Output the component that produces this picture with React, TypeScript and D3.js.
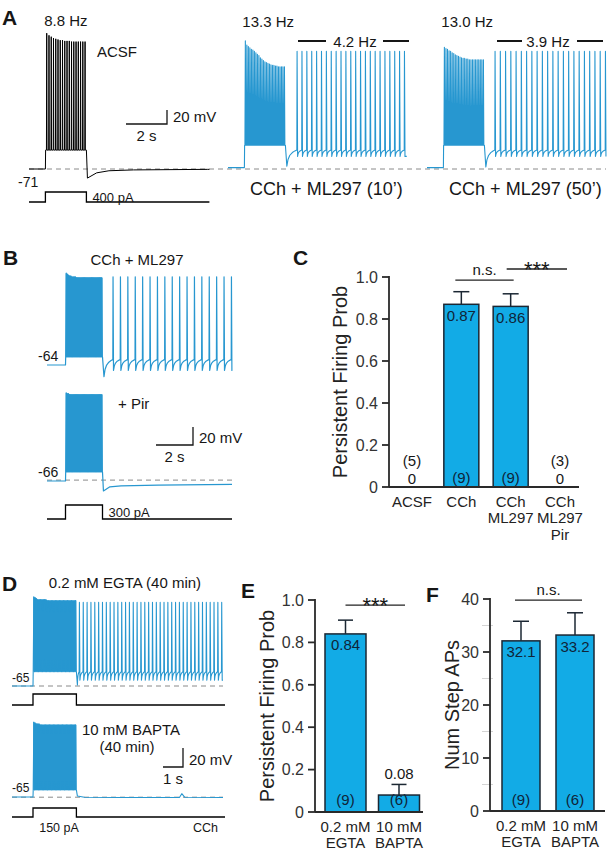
import React from 'react';
import * as d3 from 'd3';

const FONT = "'Liberation Sans', Arial, Helvetica, sans-serif";
const TRACE_BLUE = '#2797d0';
const BAR_BLUE = '#12abe6';
const INK = '#161616';
const BAR_EDGE = '#1b2733';
const DASH = '#8a8a8a';

// ---------------- Panel A data (mV, s, pA) ----------------
const aCondLabels = ['ACSF', 'CCh + ML297 (10’)', 'CCh + ML297 (50’)'];
const aStepHz = ['8.8 Hz', '13.3 Hz', '13.0 Hz'];
const aPersistHz = ['', '4.2 Hz', '3.9 Hz'];
const aRest = [-71, -69, -69];
const aPlateau = [-44, -37, -37];
const aTEnd = [8.8, 8.72, 8.72];
const aPeaksACSF = [123, 120, 118, 116, 115, 114, 113, 113, 112, 112, 112, 111, 111, 111, 111, 111, 111, 111];
const aPeaksML10 = [112, 106, 104, 102, 100, 99, 97, 95, 93, 91, 88, 86, 84, 82, 81, 80, 79, 78, 77, 77, 76, 76, 75, 75, 75, 75, 75];
const aPeaksML50 = [103, 101, 100, 98, 97, 95, 94, 92, 91, 90, 89, 88, 87, 87, 86, 86, 85, 85, 85, 85, 85, 85, 85, 85, 85, 85];
const aPostACSF: [number, number][] = [[0.05, -84], [0.5, -76.5], [1.1, -73.5], [2.3, -72.3], [5.9, -71.5]];
const aPostML10: [number, number][] = [[0.07, -67]];
const aPostML50: [number, number][] = [[0.07, -68]];
const aPersistStart = [0, 3.37, 3.32];
const aPersistFreq = [0, 4.2, 3.9];
const aPersistCount = [0, 23, 22];
const aPersistPeak = [0, 97, 97];
const aStepCurrent = 400;

// ---------------- Panel B data ----------------
const bRest = [-64, -66];
const bPlateau = [-55, -56];
const bPeaksCCh = [38, 37, 36, 35, 35, 34, 34, 34, 34, 33, 33, 33, 33, 33, 33, 33, 33, 33, 33, 33, 33, 33, 33, 33, 33, 33, 33, 33, 33, 33, 33, 33];
const bPeaksPir = [32, 31, 31, 30, 30, 30, 30, 30, 30, 30, 30, 30, 30, 30, 30, 30, 30, 30, 30, 30, 30, 30, 30, 30, 30, 30, 30, 30, 30, 30, 30, 30];
const bPostCCh: [number, number][] = [[0.08, -77]];
const bPostPir: [number, number][] = [[0.05, -77], [0.4, -72.5], [1.0, -71.5], [3.0, -70.5], [7.0, -69.7]];
const bPersist = { start: 3.57, freq: 2.5, count: 17, peak: 34, ahp: -70, thr: -58 };
const bStepCurrent = 300;

// ---------------- Panel D data ----------------
const dRest = [-65, -65];
const dPlateau = [-50, -57.6];
const dPeaksEGTA = [29, 28, 27, 26, 26, 26, 26, 26, 26, 26, 25, 25, 25, 25, 25, 25, 25, 25, 25, 25, 25, 25, 25, 25, 25, 25, 25, 25, 25, 25, 25, 25];
const dPeaksBAPTA = [14, 13, 12, 12, 12, 11, 11, 11, 11, 11, 11, 11, 11, 11, 11, 11, 11, 11, 11, 11, 11, 11, 11, 11, 11, 11, 11, 11, 11, 11, 11, 11, 11];
const dPostEGTA: [number, number][] = [[0.05, -64]];
const dPostBAPTA: [number, number][] = [[0.05, -64], [0.4, -65.3], [2.0, -65.5], [5.15, -65.5], [5.27, -61.5], [5.42, -65.3], [7.3, -65.5]];
const dPersist = { start: 3.37, freq: 5.2, count: 38, peak: 23, ahp: -59, thr: -50 };
const dStepCurrent = 150;

// ---------------- Panel C data ----------------
const cCats = ['ACSF', 'CCh', 'CCh\nML297', 'CCh\nML297\nPir'];
const cValues = [0, 0.87, 0.86, 0];
const cErrors = [0, 0.06, 0.06, 0];
const cN = [5, 9, 9, 3];
const cTicks = [0, 0.2, 0.4, 0.6, 0.8, 1.0];

// ---------------- Panel E data ----------------
const eCats = ['0.2 mM\nEGTA', '10 mM\nBAPTA'];
const eValues = [0.84, 0.08];
const eErrors = [0.065, 0.05];
const eN = [9, 6];
const eTicks = [0, 0.2, 0.4, 0.6, 0.8, 1.0];

// ---------------- Panel F data ----------------
const fCats = ['0.2 mM\nEGTA', '10 mM\nBAPTA'];
const fValues = [32.1, 33.2];
const fErrors = [3.7, 4.2];
const fN = [9, 6];
const fTicks = [0, 10, 20, 30, 40];
const fMinorTicks = [5, 15, 25, 35];

// ---------------- trace construction ----------------
type Persist = { start: number; freq: number; count: number; peak: number; ahp: number; thr: number };
type TraceSpec = {
  tEnd: number; stepOn: number; stepOff: number; rest: number; plateau: number;
  peaks: number[]; dense: boolean; post: [number, number][]; persist?: Persist;
};

const RAMP_T = [0, 0.12, 0.3, 0.55, 0.8, 1];
const RAMP_V = [0, 0.42, 0.68, 0.85, 0.95, 1];

function spikeTimes(s: TraceSpec): number[] {
  const iv = (s.stepOff - s.stepOn - 0.02) / s.peaks.length;
  return s.peaks.map((_, i) => s.stepOn + 0.01 + iv * (i + 0.5));
}

function stepSpikes(s: TraceSpec, hwSparse: number): [number, number][] {
  const pts: [number, number][] = [[s.stepOn + 0.01, s.plateau]];
  const iv = (s.stepOff - s.stepOn - 0.02) / s.peaks.length;
  const hw = s.dense ? iv / 2 : hwSparse;
  const ts = spikeTimes(s);
  s.peaks.forEach((pk, i) => {
    pts.push([ts[i] - hw, s.plateau], [ts[i], pk], [ts[i] + hw, s.plateau]);
  });
  pts.push([s.stepOff, s.plateau]);
  return pts;
}

function envelope(s: TraceSpec): [number, number][] {
  const ts = spikeTimes(s);
  return [[s.stepOn + 0.01, s.plateau], [s.stepOn + 0.01, s.peaks[0]], ...s.peaks.map((pk, i) => [ts[i], pk] as [number, number]), [s.stepOff, s.peaks[s.peaks.length - 1]], [s.stepOff, s.plateau]];
}

function buildTrace(s: TraceSpec, hwSparse: number): [number, number][] {
  const pts: [number, number][] = [[0, s.rest], [s.stepOn, s.rest], ...stepSpikes(s, hwSparse)];
  s.post.forEach(([dt, v]) => pts.push([s.stepOff + dt, v]));
  let [pt, pv] = pts[pts.length - 1];
  if (s.persist) {
    const P = s.persist;
    for (let k = 0; k < P.count; k++) {
      const tk = P.start + k / P.freq;
      const t1 = tk - 0.012;
      RAMP_T.forEach((f, j) => {
        if (j > 0) pts.push([pt + (t1 - pt) * f, pv + (P.thr - pv) * RAMP_V[j]]);
      });
      pts.push([tk, P.peak], [tk + 0.025, P.ahp]);
      pt = tk + 0.025;
      pv = P.ahp;
    }
  }
  if (pt < s.tEnd) pts.push([s.tEnd, pv]);
  return pts;
}

function currentPts(on: number, off: number, end: number, amp: number): [number, number][] {
  return [[0, 0], [on, 0], [on, amp], [off, amp], [off, 0], [end, 0]];
}

type Lin = d3.ScaleLinear<number, number>;

function Trace({ spec, x, y, color, width, hw = 0.012 }: { spec: TraceSpec; x: Lin; y: Lin; color: string; width: number; hw?: number }) {
  const line = d3.line<[number, number]>().x(d => x(d[0])).y(d => y(d[1]));
  return (
    <g>
      {spec.dense && <path d={(line(envelope(spec)) || '') + 'Z'} fill={color} stroke="none" />}
      <path d={line(buildTrace(spec, hw)) || ''} fill="none" stroke={color} strokeWidth={width} strokeLinejoin="round" />
    </g>
  );
}

function CurrentPath({ pts, x, y }: { pts: [number, number][]; x: Lin; y: Lin }) {
  const line = d3.line<[number, number]>().x(d => x(d[0])).y(d => y(d[1]));
  return <path d={line(pts) || ''} fill="none" stroke="#000" strokeWidth={1.3} />;
}

function ScaleBar({ cx, cy, secs, mv, x, y, tLabel, vLabel }: { cx: number; cy: number; secs: number; mv: number; x: Lin; y: Lin; tLabel: string; vLabel: string }) {
  const w = x(secs) - x(0);
  const h = Math.abs(y(mv) - y(0));
  return (
    <g>
      <path d={`M${cx - w},${cy}H${cx}V${cy - h}`} fill="none" stroke={INK} strokeWidth={1.3} />
      <text x={cx + 6} y={cy - 2} fontSize={15}>{vLabel}</text>
      <text x={cx - w / 2} y={cy + 17} fontSize={15} textAnchor="middle">{tLabel}</text>
    </g>
  );
}

type Sig = { a: number; b: number; dx0: number; dx1: number; level: number; label: string; stars: boolean };

function BarPanel(p: {
  cats: string[]; values: number[]; errs: number[]; ns: number[];
  yDomain: [number, number]; yRange: [number, number]; ticks: number[]; minor?: number[];
  tickFmt: (v: number) => string; valFmt: (v: number) => string;
  axisX: number; axisEnd: number; xRange: [number, number]; barW: number; capW: number;
  yLabel: string; yLabelX: number; sigs: Sig[]; nOffset: number;
}) {
  const y = d3.scaleLinear().domain(p.yDomain).range(p.yRange);
  const x = d3.scalePoint<number>().domain(p.cats.map((_, i) => i)).range(p.xRange);
  const y0 = y(0);
  const midY = (p.yRange[0] + p.yRange[1]) / 2;
  return (
    <g>
      {p.minor && p.minor.map(t => (
        <line key={'m' + t} x1={p.axisX - 8} x2={p.axisX + 3} y1={y(t)} y2={y(t)} stroke="#d4d4d4" strokeWidth={1} />
      ))}
      {p.cats.map((c, i) => {
        const cx = x(i)!;
        const v = p.values[i];
        if (v === 0) {
          return (
            <g key={i}>
              <text x={cx} y={y0 - 21.5} fontSize={15} textAnchor="middle">({p.ns[i]})</text>
              <text x={cx} y={y0 - 3.5} fontSize={15} textAnchor="middle">0</text>
            </g>
          );
        }
        const top = y(v);
        const errTop = y(v + p.errs[i]);
        const tall = y0 - top > 40;
        return (
          <g key={i}>
            <line x1={cx} x2={cx} y1={top} y2={errTop} stroke={BAR_EDGE} strokeWidth={1.5} />
            <line x1={cx - p.capW / 2} x2={cx + p.capW / 2} y1={errTop} y2={errTop} stroke={BAR_EDGE} strokeWidth={1.5} />
            <rect x={cx - p.barW / 2} y={top} width={p.barW} height={y0 - top} fill={BAR_BLUE} stroke={BAR_EDGE} strokeWidth={1.5} />
            <text x={cx} y={tall ? top + 16.5 : errTop - 5.5} fontSize={15} textAnchor="middle" fill={tall ? '#0f2438' : INK}>{p.valFmt(v)}</text>
            <text x={cx} y={y0 - p.nOffset} fontSize={15} textAnchor="middle" fill="#0f2438">({p.ns[i]})</text>
          </g>
        );
      })}
      <line x1={p.axisX} x2={p.axisX} y1={y0} y2={p.yRange[1] - 1} stroke="#2a2a2a" strokeWidth={1.8} />
      <line x1={p.axisX} x2={p.axisEnd} y1={y0} y2={y0} stroke="#2a2a2a" strokeWidth={1.8} />
      {p.ticks.map(t => (
        <g key={t}>
          <line x1={p.axisX - 7} x2={p.axisX} y1={y(t)} y2={y(t)} stroke="#2a2a2a" strokeWidth={1.8} />
          <text x={p.axisX - 11} y={y(t)} dy="0.36em" fontSize={16} textAnchor="end" fill="#333">{p.tickFmt(t)}</text>
        </g>
      ))}
      {p.cats.map((c, i) => (
        <text key={'c' + i} x={x(i)!} y={y0 + 19.5} fontSize={15} textAnchor="middle" fill="#222">
          {c.split('\n').map((ln, j) => (
            <tspan key={j} x={x(i)!} dy={j === 0 ? 0 : 16.5}>{ln}</tspan>
          ))}
        </text>
      ))}
      <text transform={`translate(${p.yLabelX},${midY}) rotate(-90)`} fontSize={20} textAnchor="middle" dy="0.35em" fill="#222">{p.yLabel}</text>
      {p.sigs.map((s, k) => {
        const x0 = x(s.a)! + s.dx0;
        const x1 = x(s.b)! + s.dx1;
        const ly = y(s.level);
        return (
          <g key={'s' + k}>
            <line x1={x0} x2={x1} y1={ly} y2={ly} stroke="#222" strokeWidth={1.3} />
            {s.stars
              ? <text x={(x0 + x1) / 2} y={ly + 8} fontSize={22} textAnchor="middle">{s.label}</text>
              : <text x={(x0 + x1) / 2} y={ly - 5} fontSize={15} textAnchor="middle">{s.label}</text>}
          </g>
        );
      })}
    </g>
  );
}

export default function App() {
  // ---------- Panel A ----------
  const pxA = 20.5;
  const aOffsets = [29, 228, 427];
  const xA = aOffsets.map(o => d3.scaleLinear().domain([0, 1]).range([o, o + pxA]));
  const yA = d3.scaleLinear().domain([-71, -51]).range([169, 155]);
  const yIA = d3.scaleLinear().domain([0, aStepCurrent]).range([202, 192]);
  const aPeaks = [aPeaksACSF, aPeaksML10, aPeaksML50];
  const aPost = [aPostACSF, aPostML10, aPostML50];
  const aSpecs: TraceSpec[] = [0, 1, 2].map(i => ({
    tEnd: aTEnd[i], stepOn: 0.8, stepOff: 2.8, rest: aRest[i], plateau: aPlateau[i],
    peaks: aPeaks[i], dense: false, post: aPost[i],
    persist: aPersistCount[i] ? { start: aPersistStart[i], freq: aPersistFreq[i], count: aPersistCount[i], peak: aPersistPeak[i], ahp: -53, thr: -44 } : undefined,
  }));

  // ---------- Panel B ----------
  const xB = d3.scaleLinear().domain([0, 10]).range([47, 232]);
  const yB1 = d3.scaleLinear().domain([-64, -44]).range([365, 347]);
  const yB2 = d3.scaleLinear().domain([-66, -46]).range([481, 463]);
  const yIB = d3.scaleLinear().domain([0, bStepCurrent]).range([519, 505]);
  const bSpec1: TraceSpec = { tEnd: 10.02, stepOn: 1, stepOff: 3, rest: bRest[0], plateau: bPlateau[0], peaks: bPeaksCCh, dense: true, post: bPostCCh, persist: bPersist };
  const bSpec2: TraceSpec = { tEnd: 10.0, stepOn: 1, stepOff: 3, rest: bRest[1], plateau: bPlateau[1], peaks: bPeaksPir, dense: true, post: bPostPir };

  // ---------- Panel D ----------
  const xD = d3.scaleLinear().domain([0, 10.55]).range([12, 223]);
  const yD1 = d3.scaleLinear().domain([-65, -45]).range([686, 667]);
  const yD2 = d3.scaleLinear().domain([-65, -45]).range([797, 778]);
  const yID1 = d3.scaleLinear().domain([0, dStepCurrent]).range([705, 694]);
  const yID2 = d3.scaleLinear().domain([0, dStepCurrent]).range([817, 808]);
  const dSpec1: TraceSpec = { tEnd: 10.55, stepOn: 1.05, stepOff: 3.22, rest: dRest[0], plateau: dPlateau[0], peaks: dPeaksEGTA, dense: true, post: dPostEGTA, persist: dPersist };
  const dSpec2: TraceSpec = { tEnd: 10.55, stepOn: 1.05, stepOff: 3.22, rest: dRest[1], plateau: dPlateau[1], peaks: dPeaksBAPTA, dense: true, post: dPostBAPTA };

  const fmt1 = (v: number) => (v === 0 ? '0' : d3.format('.1f')(v));

  return (
    <div style={{ position: 'absolute', left: 0, top: 0 }}>
      <svg width={608} height={852} style={{ display: 'block', background: '#fff' }} fontFamily={FONT} fill={INK}>
        {/* panel letters */}
        <g fontWeight="bold" fontSize={21}>
          <text x={2} y={25}>A</text>
          <text x={3} y={265}>B</text>
          <text x={293} y={265}>C</text>
          <text x={2} y={591}>D</text>
          <text x={241} y={598}>E</text>
          <text x={426} y={602}>F</text>
        </g>

        {/* ===== Panel A ===== */}
        <line x1={29} x2={606} y1={yA(-71)} y2={yA(-71)} stroke={DASH} strokeWidth={1} strokeDasharray="5,4" />
        {aSpecs.map((s, i) => (
          <Trace key={i} spec={s} x={xA[i]} y={yA} color={i === 0 ? '#000' : TRACE_BLUE} width={i === 0 ? 1 : 1.1} hw={i === 0 ? 0.014 : 0.02} />
        ))}
        <CurrentPath pts={currentPts(0.8, 2.8, 8.8, aStepCurrent)} x={xA[0]} y={yIA} />
        <text x={xA[0](2.8) + 6} y={201.5} fontSize={13}>{aStepCurrent} pA</text>
        <text x={18} y={187} fontSize={14}>{aRest[0]}</text>
        <text x={xA[0](1.8)} y={26} fontSize={15} textAnchor="middle">{aStepHz[0]}</text>
        <text x={97} y={57} fontSize={15}>{aCondLabels[0]}</text>
        {[1, 2].map(i => (
          <g key={'al' + i}>
            <text x={xA[i](0.7)} y={27} fontSize={15}>{aStepHz[i]}</text>
            <text x={xA[i](4.8)} y={194.5} fontSize={18} textAnchor="middle">{aCondLabels[i]}</text>
          </g>
        ))}
        <line x1={298} x2={326} y1={41} y2={41} stroke={INK} strokeWidth={2} />
        <line x1={383} x2={409} y1={41} y2={41} stroke={INK} strokeWidth={2} />
        <text x={355} y={46.5} fontSize={15} textAnchor="middle">{aPersistHz[1]}</text>
        <line x1={497} x2={522} y1={41} y2={41} stroke={INK} strokeWidth={2} />
        <line x1={577} x2={603} y1={41} y2={41} stroke={INK} strokeWidth={2} />
        <text x={548} y={46.5} fontSize={15} textAnchor="middle">{aPersistHz[2]}</text>
        <ScaleBar cx={167} cy={124} secs={2} mv={20} x={xA[0]} y={yA} tLabel="2 s" vLabel="20 mV" />

        {/* ===== Panel B ===== */}
        <text x={137} y={265} fontSize={15} textAnchor="middle">CCh + ML297</text>
        <Trace spec={bSpec1} x={xB} y={yB1} color={TRACE_BLUE} width={1.2} />
        <text x={38} y={361} fontSize={14}>{bRest[0]}</text>
        <line x1={47} x2={232} y1={yB2(-65)} y2={yB2(-65)} stroke={DASH} strokeWidth={1} strokeDasharray="5,4" />
        <Trace spec={bSpec2} x={xB} y={yB2} color={TRACE_BLUE} width={1.2} />
        <text x={38} y={477} fontSize={14}>{bRest[1]}</text>
        <text x={118} y={408.5} fontSize={15}>+ Pir</text>
        <ScaleBar cx={193} cy={445} secs={2} mv={20} x={xB} y={yB1} tLabel="2 s" vLabel="20 mV" />
        <CurrentPath pts={currentPts(1, 3, 10, bStepCurrent)} x={xB} y={yIB} />
        <text x={xB(3) + 6} y={516.5} fontSize={13}>{bStepCurrent} pA</text>

        {/* ===== Panel C ===== */}
        <BarPanel cats={cCats} values={cValues} errs={cErrors} ns={cN}
          yDomain={[0, 1]} yRange={[487, 277]} ticks={cTicks} tickFmt={fmt1} valFmt={d3.format('.2f')}
          axisX={389} axisEnd={579} xRange={[412, 560]} barW={35} capW={16}
          yLabel="Persistent Firing Prob" yLabelX={340} nOffset={4.5}
          sigs={[
            { a: 1, b: 2, dx0: -6, dx1: 3, level: 0.985, label: 'n.s.', stars: false },
            { a: 2, b: 3, dx0: -4, dx1: 7, level: 1.038, label: '***', stars: true },
          ]} />

        {/* ===== Panel D ===== */}
        <text x={125} y={588} fontSize={15} textAnchor="middle">0.2 mM EGTA (40 min)</text>
        <line x1={12} x2={223} y1={yD1(-65)} y2={yD1(-65)} stroke={DASH} strokeWidth={1} strokeDasharray="5,4" />
        <Trace spec={dSpec1} x={xD} y={yD1} color={TRACE_BLUE} width={1.1} />
        <text x={12} y={682} fontSize={12}>{dRest[0]}</text>
        <CurrentPath pts={currentPts(1.05, 3.22, 10.65, dStepCurrent)} x={xD} y={yID1} />
        <line x1={12} x2={223} y1={yD2(-65.2)} y2={yD2(-65.2)} stroke={DASH} strokeWidth={1} strokeDasharray="5,4" />
        <Trace spec={dSpec2} x={xD} y={yD2} color={TRACE_BLUE} width={1.1} />
        <text x={12} y={792} fontSize={12}>{dRest[1]}</text>
        <text x={82} y={735} fontSize={15}>10 mM BAPTA</text>
        <text x={127} y={752} fontSize={15} textAnchor="middle">(40 min)</text>
        <ScaleBar cx={183} cy={767} secs={1} mv={20} x={xD} y={yD1} tLabel="1 s" vLabel="20 mV" />
        <CurrentPath pts={currentPts(1.05, 3.22, 10.65, dStepCurrent)} x={xD} y={yID2} />
        <text x={59} y={831.5} fontSize={12.5} textAnchor="middle">{dStepCurrent} pA</text>
        <text x={193} y={831.5} fontSize={12.5}>CCh</text>

        {/* ===== Panel E ===== */}
        <BarPanel cats={eCats} values={eValues} errs={eErrors} ns={eN}
          yDomain={[0, 1]} yRange={[812, 600]} ticks={eTicks} tickFmt={fmt1} valFmt={d3.format('.2f')}
          axisX={315} axisEnd={423} xRange={[345.5, 399]} barW={41} capW={15}
          yLabel="Persistent Firing Prob" yLabelX={267} nOffset={7}
          sigs={[{ a: 0, b: 1, dx0: 0, dx1: 6, level: 0.976, label: '***', stars: true }]} />

        {/* ===== Panel F ===== */}
        <BarPanel cats={fCats} values={fValues} errs={fErrors} ns={fN}
          yDomain={[0, 40]} yRange={[811, 599]} ticks={fTicks} minor={fMinorTicks} tickFmt={d3.format('d')} valFmt={d3.format('.1f')}
          axisX={490} axisEnd={605} xRange={[521, 575]} barW={38} capW={16}
          yLabel="Num Step APs" yLabelX={452} nOffset={6}
          sigs={[{ a: 0, b: 1, dx0: -6, dx1: 7, level: 39.8, label: 'n.s.', stars: false }]} />
      </svg>
    </div>
  );
}
